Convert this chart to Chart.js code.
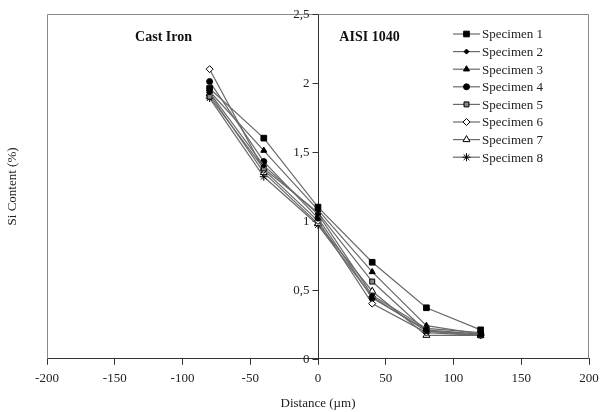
<!DOCTYPE html>
<html>
<head>
<meta charset="utf-8">
<script src="https://cdn.jsdelivr.net/npm/chart.js@4/dist/chart.umd.min.js"></script>
<style>
  html, body { margin: 0; padding: 0; background: #fff; }
  #wrap { width: 603px; height: 412px; }
</style>
</head>
<body>
<div id="wrap"><canvas id="myChart"></canvas></div>
<script>
// Si content profiles across the cast iron / AISI 1040 interface
const distances = [-80, -40, 0, 40, 80, 120];
const specimenNames = ['Specimen 1', 'Specimen 2', 'Specimen 3', 'Specimen 4',
                       'Specimen 5', 'Specimen 6', 'Specimen 7', 'Specimen 8'];
const spec1 = [1.96, 1.60, 1.10, 0.70, 0.37, 0.21];
const spec2 = [1.93, 1.40, 1.05, 0.46, 0.22, 0.19];
const spec3 = [1.94, 1.51, 1.08, 0.63, 0.24, 0.18];
const spec4 = [2.01, 1.43, 1.02, 0.44, 0.21, 0.18];
const spec5 = [1.90, 1.38, 1.06, 0.56, 0.20, 0.17];
const spec6 = [2.10, 1.37, 1.00, 0.40, 0.19, 0.17];
const spec7 = [1.92, 1.35, 0.98, 0.49, 0.17, 0.17];
const spec8 = [1.89, 1.32, 0.97, 0.45, 0.20, 0.18];
const yTicks = [0, 0.5, 1, 1.5, 2, 2.5];
const xTicks = [-200, -150, -100, -50, 0, 50, 100, 150, 200];

const allValues = [spec1, spec2, spec3, spec4, spec5, spec6, spec7, spec8];
const markers = [
  { pointStyle: 'rect', radius: 4, fill: '#000' },
  { pointStyle: 'rectRot', radius: 2.5, fill: '#000' },
  { pointStyle: 'triangle', radius: 3.5, fill: '#000' },
  { pointStyle: 'circle', radius: 3, fill: '#000' },
  { pointStyle: 'rect', radius: 3.5, fill: '#888' },
  { pointStyle: 'rectRot', radius: 3.5, fill: '#fff' },
  { pointStyle: 'triangle', radius: 4, fill: '#fff' },
  { pointStyle: 'star', radius: 4, fill: '#000' }
];
const lineColor = '#6a6a6a';
const serif = '"Liberation Serif", "Times New Roman", serif';

const datasets = allValues.map((vals, i) => ({
  label: specimenNames[i],
  data: distances.map((d, j) => ({ x: d, y: vals[j] })),
  borderColor: lineColor,
  borderWidth: 1.2,
  pointStyle: markers[i].pointStyle,
  pointRadius: markers[i].radius,
  pointBackgroundColor: markers[i].fill,
  pointBorderColor: '#000',
  pointBorderWidth: 1,
  tension: 0
}));

// frame, y ticks on the centre axis, annotations, y title and the legend
const extras = {
  id: 'extras',
  beforeDatasetsDraw(chart) {
    const { ctx, chartArea: a, scales } = chart;
    ctx.save();
    ctx.strokeStyle = '#8a8a8a';
    ctx.lineWidth = 1;
    ctx.beginPath();
    ctx.moveTo(a.left + 0.5, a.bottom);
    ctx.lineTo(a.left + 0.5, a.top + 0.5);
    ctx.lineTo(a.right - 0.5, a.top + 0.5);
    ctx.lineTo(a.right - 0.5, a.bottom);
    ctx.stroke();

    // y axis ticks + labels, left of the axis at x = 0
    const x0 = Math.round(scales.x.getPixelForValue(0)) + 0.5;
    ctx.strokeStyle = '#333';
    ctx.fillStyle = '#222';
    ctx.font = '13px ' + serif;
    ctx.textAlign = 'right';
    ctx.textBaseline = 'middle';
    yTicks.forEach(v => {
      const y = Math.round(scales.y.getPixelForValue(v)) + 0.5;
      ctx.beginPath();
      ctx.moveTo(x0 - 6, y);
      ctx.lineTo(x0, y);
      ctx.stroke();
      ctx.fillText(String(v).replace('.', ','), x0 - 9, y);
    });
    ctx.restore();
  },
  afterDraw(chart) {
    const { ctx, chartArea: a, scales } = chart;
    ctx.save();
    ctx.fillStyle = '#111';
    ctx.font = 'bold 14px ' + serif;
    ctx.textAlign = 'center';
    ctx.textBaseline = 'middle';
    ctx.fillText('Cast Iron', scales.x.getPixelForValue(-114), scales.y.getPixelForValue(2.33));
    ctx.fillText('AISI 1040', scales.x.getPixelForValue(38), scales.y.getPixelForValue(2.33));

    ctx.font = '13px ' + serif;
    ctx.fillStyle = '#222';
    ctx.translate(13, (a.top + a.bottom) / 2);
    ctx.rotate(-Math.PI / 2);
    ctx.fillText('Si Content (%)', 0, 0);
    ctx.restore();

    ctx.save();
    const lx = 453, ly = 34, step = 17.6;
    ctx.font = '13px ' + serif;
    ctx.textAlign = 'left';
    ctx.textBaseline = 'middle';
    specimenNames.forEach((name, i) => {
      const y = ly + i * step;
      ctx.strokeStyle = lineColor;
      ctx.lineWidth = 1.2;
      ctx.beginPath();
      ctx.moveTo(lx, y);
      ctx.lineTo(lx + 27, y);
      ctx.stroke();
      ctx.fillStyle = markers[i].fill;
      ctx.strokeStyle = '#000';
      ctx.lineWidth = 1;
      Chart.helpers.drawPoint(ctx, {
        pointStyle: markers[i].pointStyle,
        radius: markers[i].radius,
        rotation: 0,
        borderWidth: 1
      }, lx + 13.5, y);
      ctx.fillStyle = '#222';
      ctx.fillText(name, lx + 29, y + 1);
    });
    ctx.restore();
  }
};

const ctx = document.getElementById('myChart').getContext('2d');
const myChart = new Chart(ctx, {
  type: 'line',
  data: { datasets: datasets },
  options: {
    responsive: true,
    maintainAspectRatio: false,
    animation: false,
    layout: { padding: { left: 47, right: 14, top: 14, bottom: 1 } },
    plugins: {
      legend: { display: false },
      tooltip: { enabled: false }
    },
    scales: {
      x: {
        type: 'linear',
        min: -200,
        max: 200,
        afterBuildTicks: axis => { axis.ticks = xTicks.map(v => ({ value: v })); },
        afterFit: axis => { axis.paddingLeft = 0; axis.paddingRight = 0; },
        grid: { drawOnChartArea: false, drawTicks: true, tickLength: 6, color: '#333' },
        border: { color: '#333', width: 1 },
        ticks: { color: '#222', font: { family: serif, size: 13 }, padding: 6 },
        title: { display: true, text: 'Distance (µm)', color: '#222', font: { family: serif, size: 13 }, padding: { top: 3, bottom: 0 } }
      },
      y: {
        type: 'linear',
        position: { x: 0 },
        min: 0,
        max: 2.5,
        afterBuildTicks: axis => { axis.ticks = yTicks.map(v => ({ value: v })); },
        grid: { drawOnChartArea: false, drawTicks: false },
        border: { color: '#333', width: 1 },
        ticks: { display: false }
      }
    }
  },
  plugins: [extras]
});
</script>
</body>
</html>
